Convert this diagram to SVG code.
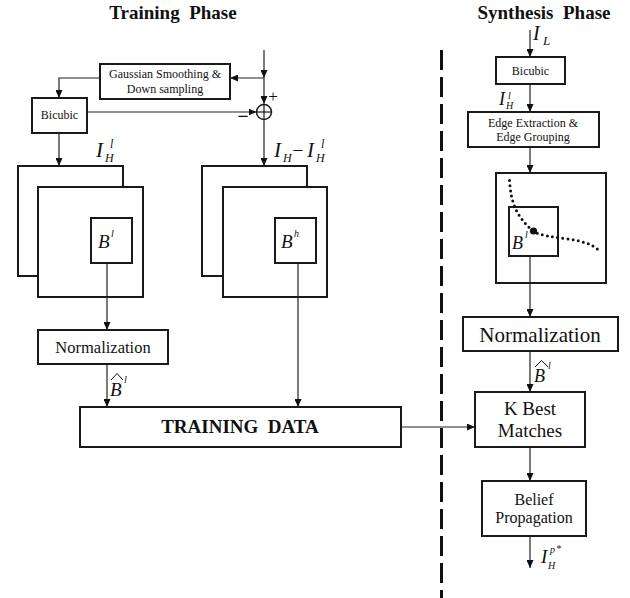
<svg xmlns="http://www.w3.org/2000/svg" width="630" height="598" viewBox="0 0 630 598" font-family="Liberation Serif, Times New Roman, serif">
<defs>
<marker id="ah" markerUnits="userSpaceOnUse" markerWidth="8" markerHeight="7" refX="8" refY="3.5" orient="auto">
<path d="M0,0 L8,3.5 L0,7 z" fill="#111"/>
</marker>
<style>
.box{fill:#fff;stroke:#1a1a1a;stroke-width:2}
.ln{fill:none;stroke:#222;stroke-width:1.2}
.t{fill:#111;text-anchor:middle}
.m{font-style:italic;fill:#111}
.b{font-weight:bold}
</style>
</defs>
<rect width="630" height="598" fill="#fff"/>

<text class="t b" x="173" y="19" font-size="19" style="white-space:pre">Training  Phase</text>
<text class="t b" x="544" y="19" font-size="19" style="white-space:pre">Synthesis  Phase</text>

<line x1="441.5" y1="50" x2="441.5" y2="598" stroke="#111" stroke-width="3" stroke-dasharray="20 7"/>

<g id="gaussian">
<rect class="box" x="100" y="64" width="130" height="35"/>
<text class="t" x="165" y="78" font-size="12">Gaussian Smoothing &amp;</text>
<text class="t" x="165" y="93" font-size="12">Down sampling</text>
</g>

<g id="bicubic-train">
<rect class="box" x="32" y="98" width="55" height="35"/>
<text class="t" x="59.5" y="119" font-size="12">Bicubic</text>
</g>

<g id="sum">
<circle cx="264" cy="112" r="7.5" fill="#fff" stroke="#1a1a1a" stroke-width="1.5"/>
<line x1="256.5" y1="112" x2="271.5" y2="112" stroke="#1a1a1a" stroke-width="1.2"/>
<line x1="264" y1="104.5" x2="264" y2="119.5" stroke="#1a1a1a" stroke-width="1.2"/>
<text class="t" x="273" y="102" font-size="17">+</text>
<text class="t b" x="243" y="123" font-size="20">−</text>
</g>

<g id="stack-low">
<rect class="box" x="18" y="166" width="105" height="110"/>
<rect class="box" x="38" y="187" width="105" height="110"/>
<rect class="box" x="91" y="218" width="41" height="45"/>
<text class="m" x="98" y="248" font-size="19">B</text>
<text class="m" x="111" y="237" font-size="10">l</text>
</g>

<g id="stack-high">
<rect class="box" x="202" y="166" width="105" height="110"/>
<rect class="box" x="223" y="187" width="104" height="110"/>
<rect class="box" x="275" y="218" width="41" height="45"/>
<text class="m" x="281" y="248" font-size="19">B</text>
<text class="m" x="294" y="237" font-size="10">h</text>
</g>

<g id="label-IHl-left">
<text class="m" x="96" y="157" font-size="21">I</text>
<text class="m" x="105" y="162" font-size="12">H</text>
<text class="m" x="110" y="148" font-size="12">l</text>
</g>

<g id="label-diff">
<text class="m" x="274" y="157" font-size="21">I</text>
<text class="m" x="283" y="162" font-size="12">H</text>
<text class="t" x="298" y="157" font-size="20">−</text>
<text class="m" x="307" y="157" font-size="21">I</text>
<text class="m" x="316" y="162" font-size="12">H</text>
<text class="m" x="321" y="148" font-size="12">l</text>
</g>

<g id="normalization-train">
<rect class="box" x="38" y="330" width="130" height="34"/>
<text class="t" x="103" y="353" font-size="16.5">Normalization</text>
</g>

<g id="label-Bhat-left">
<polyline points="111,380 117,373.5 123,380" fill="none" stroke="#111" stroke-width="1"/>
<text class="m" x="110" y="396" font-size="19">B</text>
<text class="m" x="124" y="383" font-size="10">l</text>
</g>

<g id="training-data">
<rect class="box" x="80" y="407" width="321" height="40"/>
<text class="t b" x="240" y="433" font-size="19" style="white-space:pre">TRAINING  DATA</text>
</g>

<g id="label-IL">
<text class="m" x="533" y="40" font-size="20">I</text>
<text class="m" x="543" y="45" font-size="13">L</text>
</g>

<g id="bicubic-synth">
<rect class="box" x="496" y="57" width="69" height="27"/>
<text class="t" x="530.5" y="75" font-size="12">Bicubic</text>
</g>

<g id="label-IHl-right">
<text class="m" x="499" y="105" font-size="18">I</text>
<text class="m" x="506" y="109" font-size="10">H</text>
<text class="m" x="508" y="99" font-size="10">l</text>
</g>

<g id="edge">
<rect class="box" x="468" y="112" width="131" height="35"/>
<text class="t" x="533" y="127" font-size="12">Edge Extraction &amp;</text>
<text class="t" x="533" y="141" font-size="12">Edge Grouping</text>
</g>

<g id="edge-image">
<rect class="box" x="496" y="173" width="110" height="110"/>
<rect class="box" x="509" y="207" width="49" height="49" fill="none"/>
<path d="M509.5,180.5 C511,200 514,214 533,231 C548,241 586,235 600.5,252" fill="none" stroke="#111" stroke-width="3" stroke-linecap="round" stroke-dasharray="0 5.2"/>
<circle cx="533.5" cy="231" r="3.6" fill="#111"/>
<text class="m" x="512" y="249" font-size="18">B</text>
<text class="m" x="525" y="238" font-size="10">l</text>
</g>

<g id="normalization-synth">
<rect class="box" x="463" y="317" width="155" height="34"/>
<text class="t" x="540" y="342" font-size="21">Normalization</text>
</g>

<g id="label-Bhat-right">
<polyline points="535,367 541.5,360.5 548,367" fill="none" stroke="#111" stroke-width="1"/>
<text class="m" x="534" y="382" font-size="18">B</text>
<text class="m" x="548" y="369" font-size="10">l</text>
</g>

<g id="kbest">
<rect class="box" x="475" y="392" width="110" height="55"/>
<text class="t" x="530" y="415" font-size="19">K Best</text>
<text class="t" x="530" y="437" font-size="19">Matches</text>
</g>

<g id="belief">
<rect class="box" x="482" y="481" width="104" height="55"/>
<text class="t" x="534" y="505" font-size="16">Belief</text>
<text class="t" x="534" y="523" font-size="16">Propagation</text>
</g>

<g id="label-output">
<text class="m" x="541" y="563" font-size="19">I</text>
<text class="m" x="548" y="569" font-size="10">H</text>
<text class="m" x="550" y="553" font-size="10">p</text>
<text class="t" x="559" y="552" font-size="10">*</text>
</g>

<g id="connectors">
<path class="ln" d="M264,50 V78" marker-end="url(#ah)"/>
<path class="ln" d="M264,78 V104" marker-end="url(#ah)"/>
<path class="ln" d="M264,78 H230" marker-end="url(#ah)"/>
<path class="ln" d="M100,78 H59 V98" marker-end="url(#ah)"/>
<path class="ln" d="M87,112 H256.5" marker-end="url(#ah)"/>
<path class="ln" d="M264,119.5 V166" marker-end="url(#ah)"/>
<path class="ln" d="M59,133 V166" marker-end="url(#ah)"/>
<path class="ln" d="M107,263 V330" marker-end="url(#ah)"/>
<path class="ln" d="M107,364 V407" marker-end="url(#ah)"/>
<path class="ln" d="M298,263 V407" marker-end="url(#ah)"/>
<path class="ln" d="M401,427 H475" marker-end="url(#ah)"/>
<path class="ln" d="M530,30 V57" marker-end="url(#ah)"/>
<path class="ln" d="M530,84 V112" marker-end="url(#ah)"/>
<path class="ln" d="M530,147 V173" marker-end="url(#ah)"/>
<path class="ln" d="M530,256 V317" marker-end="url(#ah)"/>
<path class="ln" d="M530,351 V392" marker-end="url(#ah)"/>
<path class="ln" d="M530,447 V481" marker-end="url(#ah)"/>
<path class="ln" d="M530,536 V568" marker-end="url(#ah)"/>
</g>
</svg>
